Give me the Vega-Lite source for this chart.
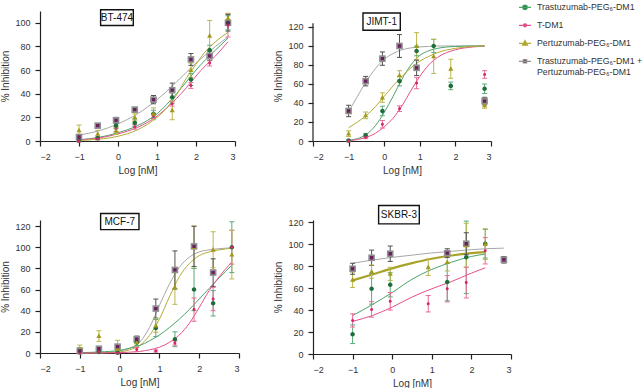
{
"$schema": "https://vega.github.io/schema/vega-lite/v6.json",
"background": "white",
"padding": {"left": 0, "top": 0, "right": 0, "bottom": 0},
"bounds": "flush",
"columns": 2,
"spacing": {"row": 79, "column": 74},
"resolve": {"scale": {"x": "independent", "y": "independent"}},
"datasets": {
"labels": [
{"p":"BT-474","x1":-0.446,"x2":0.392,"y1":97.7,"y2":111,"tx":-0.027,"ty":104.3},
{"p":"JIMT-1","x1":-0.596,"x2":0.452,"y1":116.5,"y2":134.7,"tx":-0.07,"ty":125.6,"ax":-2,"ay1":0,"ay2":124},
{"p":"MCF-7","x1":-0.477,"x2":0.487,"y1":116.6,"y2":131.8,"tx":0.005,"ty":124.2},
{"p":"SKBR-3","x1":-0.343,"x2":0.684,"y1":118.5,"y2":135.2,"tx":0.17,"ty":126.8}
],
"curves": [
{"p":"BT-474","s":"T+P","x":-1,"y":5},{"p":"BT-474","s":"T+P","x":-0.5,"y":8.5},{"p":"BT-474","s":"T+P","x":0,"y":14.5},{"p":"BT-474","s":"T+P","x":0.5,"y":23},{"p":"BT-474","s":"T+P","x":1,"y":35},{"p":"BT-474","s":"T+P","x":1.25,"y":42},{"p":"BT-474","s":"T+P","x":1.5,"y":50},{"p":"BT-474","s":"T+P","x":1.75,"y":58},{"p":"BT-474","s":"T+P","x":2,"y":66},{"p":"BT-474","s":"T+P","x":2.25,"y":73},{"p":"BT-474","s":"T+P","x":2.5,"y":80},{"p":"BT-474","s":"T+P","x":2.82,"y":88},
{"p":"BT-474","s":"T-PEG6","x":-1,"y":1},{"p":"BT-474","s":"T-PEG6","x":-0.5,"y":3},{"p":"BT-474","s":"T-PEG6","x":0,"y":7},{"p":"BT-474","s":"T-PEG6","x":0.5,"y":13},{"p":"BT-474","s":"T-PEG6","x":1,"y":23},{"p":"BT-474","s":"T-PEG6","x":1.25,"y":31},{"p":"BT-474","s":"T-PEG6","x":1.5,"y":40},{"p":"BT-474","s":"T-PEG6","x":1.75,"y":50},{"p":"BT-474","s":"T-PEG6","x":2,"y":60},{"p":"BT-474","s":"T-PEG6","x":2.25,"y":69},{"p":"BT-474","s":"T-PEG6","x":2.5,"y":77},{"p":"BT-474","s":"T-PEG6","x":2.82,"y":87},
{"p":"BT-474","s":"T-DM1","x":-1,"y":1},{"p":"BT-474","s":"T-DM1","x":-0.5,"y":2.5},{"p":"BT-474","s":"T-DM1","x":0,"y":6},{"p":"BT-474","s":"T-DM1","x":0.5,"y":11.5},{"p":"BT-474","s":"T-DM1","x":1,"y":21},{"p":"BT-474","s":"T-DM1","x":1.25,"y":28},{"p":"BT-474","s":"T-DM1","x":1.5,"y":36},{"p":"BT-474","s":"T-DM1","x":1.75,"y":45},{"p":"BT-474","s":"T-DM1","x":2,"y":55},{"p":"BT-474","s":"T-DM1","x":2.25,"y":64},{"p":"BT-474","s":"T-DM1","x":2.5,"y":72},{"p":"BT-474","s":"T-DM1","x":2.82,"y":84},
{"p":"BT-474","s":"P-PEG6","x":-1,"y":0.5},{"p":"BT-474","s":"P-PEG6","x":-0.5,"y":1.5},{"p":"BT-474","s":"P-PEG6","x":0,"y":4},{"p":"BT-474","s":"P-PEG6","x":0.5,"y":9.5},{"p":"BT-474","s":"P-PEG6","x":1,"y":20},{"p":"BT-474","s":"P-PEG6","x":1.25,"y":28},{"p":"BT-474","s":"P-PEG6","x":1.5,"y":39},{"p":"BT-474","s":"P-PEG6","x":1.75,"y":53},{"p":"BT-474","s":"P-PEG6","x":2,"y":65},{"p":"BT-474","s":"P-PEG6","x":2.25,"y":76},{"p":"BT-474","s":"P-PEG6","x":2.5,"y":84},{"p":"BT-474","s":"P-PEG6","x":2.82,"y":92},
{"p":"JIMT-1","s":"T+P","x":-1,"y":31},{"p":"JIMT-1","s":"T+P","x":-0.75,"y":47},{"p":"JIMT-1","s":"T+P","x":-0.5,"y":63},{"p":"JIMT-1","s":"T+P","x":-0.25,"y":76},{"p":"JIMT-1","s":"T+P","x":0,"y":86},{"p":"JIMT-1","s":"T+P","x":0.25,"y":92},{"p":"JIMT-1","s":"T+P","x":0.5,"y":96},{"p":"JIMT-1","s":"T+P","x":0.75,"y":98},{"p":"JIMT-1","s":"T+P","x":1,"y":99},{"p":"JIMT-1","s":"T+P","x":1.25,"y":99.5},{"p":"JIMT-1","s":"T+P","x":1.5,"y":100},{"p":"JIMT-1","s":"T+P","x":2,"y":100},{"p":"JIMT-1","s":"T+P","x":2.5,"y":100},{"p":"JIMT-1","s":"T+P","x":2.82,"y":100},
{"p":"JIMT-1","s":"T-PEG6","x":-1,"y":0.7},{"p":"JIMT-1","s":"T-PEG6","x":-0.75,"y":2.5},{"p":"JIMT-1","s":"T-PEG6","x":-0.5,"y":7},{"p":"JIMT-1","s":"T-PEG6","x":-0.25,"y":16},{"p":"JIMT-1","s":"T-PEG6","x":0,"y":30},{"p":"JIMT-1","s":"T-PEG6","x":0.25,"y":47},{"p":"JIMT-1","s":"T-PEG6","x":0.5,"y":65},{"p":"JIMT-1","s":"T-PEG6","x":0.75,"y":80},{"p":"JIMT-1","s":"T-PEG6","x":1,"y":90},{"p":"JIMT-1","s":"T-PEG6","x":1.25,"y":95},{"p":"JIMT-1","s":"T-PEG6","x":1.5,"y":97.5},{"p":"JIMT-1","s":"T-PEG6","x":2,"y":99.5},{"p":"JIMT-1","s":"T-PEG6","x":2.5,"y":100},{"p":"JIMT-1","s":"T-PEG6","x":2.82,"y":100},
{"p":"JIMT-1","s":"T-DM1","x":-1,"y":0.5},{"p":"JIMT-1","s":"T-DM1","x":-0.75,"y":1.5},{"p":"JIMT-1","s":"T-DM1","x":-0.5,"y":4},{"p":"JIMT-1","s":"T-DM1","x":-0.25,"y":8},{"p":"JIMT-1","s":"T-DM1","x":0,"y":15},{"p":"JIMT-1","s":"T-DM1","x":0.25,"y":24},{"p":"JIMT-1","s":"T-DM1","x":0.5,"y":37},{"p":"JIMT-1","s":"T-DM1","x":0.75,"y":53},{"p":"JIMT-1","s":"T-DM1","x":1,"y":68},{"p":"JIMT-1","s":"T-DM1","x":1.25,"y":80},{"p":"JIMT-1","s":"T-DM1","x":1.5,"y":88},{"p":"JIMT-1","s":"T-DM1","x":2,"y":96},{"p":"JIMT-1","s":"T-DM1","x":2.5,"y":99},{"p":"JIMT-1","s":"T-DM1","x":2.82,"y":100},
{"p":"JIMT-1","s":"P-PEG6","x":-1,"y":14},{"p":"JIMT-1","s":"P-PEG6","x":-0.75,"y":20},{"p":"JIMT-1","s":"P-PEG6","x":-0.5,"y":27},{"p":"JIMT-1","s":"P-PEG6","x":-0.25,"y":36},{"p":"JIMT-1","s":"P-PEG6","x":0,"y":47},{"p":"JIMT-1","s":"P-PEG6","x":0.25,"y":58},{"p":"JIMT-1","s":"P-PEG6","x":0.5,"y":68},{"p":"JIMT-1","s":"P-PEG6","x":0.75,"y":77},{"p":"JIMT-1","s":"P-PEG6","x":1,"y":84},{"p":"JIMT-1","s":"P-PEG6","x":1.25,"y":89},{"p":"JIMT-1","s":"P-PEG6","x":1.5,"y":93},{"p":"JIMT-1","s":"P-PEG6","x":2,"y":97.5},{"p":"JIMT-1","s":"P-PEG6","x":2.5,"y":99.5},{"p":"JIMT-1","s":"P-PEG6","x":2.82,"y":100},
{"p":"MCF-7","s":"T+P","x":-1,"y":0},{"p":"MCF-7","s":"T+P","x":-0.5,"y":0.3},{"p":"MCF-7","s":"T+P","x":0,"y":2},{"p":"MCF-7","s":"T+P","x":0.25,"y":4.5},{"p":"MCF-7","s":"T+P","x":0.5,"y":10},{"p":"MCF-7","s":"T+P","x":0.75,"y":24},{"p":"MCF-7","s":"T+P","x":1,"y":45},{"p":"MCF-7","s":"T+P","x":1.25,"y":65},{"p":"MCF-7","s":"T+P","x":1.5,"y":81},{"p":"MCF-7","s":"T+P","x":1.75,"y":90.5},{"p":"MCF-7","s":"T+P","x":2,"y":95.5},{"p":"MCF-7","s":"T+P","x":2.25,"y":97.5},{"p":"MCF-7","s":"T+P","x":2.5,"y":98.6},{"p":"MCF-7","s":"T+P","x":2.82,"y":99.5},
{"p":"MCF-7","s":"P-PEG6","x":-1,"y":0},{"p":"MCF-7","s":"P-PEG6","x":-0.5,"y":0.2},{"p":"MCF-7","s":"P-PEG6","x":0,"y":1},{"p":"MCF-7","s":"P-PEG6","x":0.25,"y":3},{"p":"MCF-7","s":"P-PEG6","x":0.5,"y":7},{"p":"MCF-7","s":"P-PEG6","x":0.75,"y":16.5},{"p":"MCF-7","s":"P-PEG6","x":1,"y":32},{"p":"MCF-7","s":"P-PEG6","x":1.25,"y":53},{"p":"MCF-7","s":"P-PEG6","x":1.5,"y":72},{"p":"MCF-7","s":"P-PEG6","x":1.75,"y":84.5},{"p":"MCF-7","s":"P-PEG6","x":2,"y":92},{"p":"MCF-7","s":"P-PEG6","x":2.25,"y":95.5},{"p":"MCF-7","s":"P-PEG6","x":2.5,"y":97.5},{"p":"MCF-7","s":"P-PEG6","x":2.82,"y":99},
{"p":"MCF-7","s":"T-PEG6","x":-1,"y":0.3},{"p":"MCF-7","s":"T-PEG6","x":-0.5,"y":1},{"p":"MCF-7","s":"T-PEG6","x":0,"y":2.5},{"p":"MCF-7","s":"T-PEG6","x":0.25,"y":4.5},{"p":"MCF-7","s":"T-PEG6","x":0.5,"y":7},{"p":"MCF-7","s":"T-PEG6","x":0.75,"y":11.5},{"p":"MCF-7","s":"T-PEG6","x":1,"y":17},{"p":"MCF-7","s":"T-PEG6","x":1.25,"y":24},{"p":"MCF-7","s":"T-PEG6","x":1.5,"y":32},{"p":"MCF-7","s":"T-PEG6","x":1.75,"y":41},{"p":"MCF-7","s":"T-PEG6","x":2,"y":51},{"p":"MCF-7","s":"T-PEG6","x":2.25,"y":61},{"p":"MCF-7","s":"T-PEG6","x":2.5,"y":71},{"p":"MCF-7","s":"T-PEG6","x":2.82,"y":83},
{"p":"MCF-7","s":"T-DM1","x":-1,"y":0},{"p":"MCF-7","s":"T-DM1","x":-0.5,"y":0},{"p":"MCF-7","s":"T-DM1","x":0,"y":0.3},{"p":"MCF-7","s":"T-DM1","x":0.25,"y":0.8},{"p":"MCF-7","s":"T-DM1","x":0.5,"y":1.5},{"p":"MCF-7","s":"T-DM1","x":0.75,"y":3},{"p":"MCF-7","s":"T-DM1","x":1,"y":5.5},{"p":"MCF-7","s":"T-DM1","x":1.25,"y":10},{"p":"MCF-7","s":"T-DM1","x":1.5,"y":17},{"p":"MCF-7","s":"T-DM1","x":1.75,"y":28},{"p":"MCF-7","s":"T-DM1","x":2,"y":43},{"p":"MCF-7","s":"T-DM1","x":2.25,"y":59},{"p":"MCF-7","s":"T-DM1","x":2.5,"y":72},{"p":"MCF-7","s":"T-DM1","x":2.82,"y":86},
{"p":"SKBR-3","s":"T+P","x":-1,"y":82.7},{"p":"SKBR-3","s":"T+P","x":-0.5,"y":85.5},{"p":"SKBR-3","s":"T+P","x":0,"y":88},{"p":"SKBR-3","s":"T+P","x":0.5,"y":90},{"p":"SKBR-3","s":"T+P","x":1,"y":92},{"p":"SKBR-3","s":"T+P","x":1.5,"y":93.5},{"p":"SKBR-3","s":"T+P","x":2,"y":95},{"p":"SKBR-3","s":"T+P","x":2.35,"y":95.8},{"p":"SKBR-3","s":"T+P","x":2.82,"y":96.4},
{"p":"SKBR-3","s":"P-PEG6","x":-1,"y":67},{"p":"SKBR-3","s":"P-PEG6","x":-0.5,"y":72.4},{"p":"SKBR-3","s":"P-PEG6","x":0,"y":78},{"p":"SKBR-3","s":"P-PEG6","x":0.5,"y":82.7},{"p":"SKBR-3","s":"P-PEG6","x":1,"y":86.7},{"p":"SKBR-3","s":"P-PEG6","x":1.5,"y":89.7},{"p":"SKBR-3","s":"P-PEG6","x":2,"y":91.8},{"p":"SKBR-3","s":"P-PEG6","x":2.35,"y":92.7},
{"p":"SKBR-3","s":"T-PEG6","x":-1,"y":35},{"p":"SKBR-3","s":"T-PEG6","x":-0.5,"y":45},{"p":"SKBR-3","s":"T-PEG6","x":0,"y":56},{"p":"SKBR-3","s":"T-PEG6","x":0.5,"y":68},{"p":"SKBR-3","s":"T-PEG6","x":1,"y":77},{"p":"SKBR-3","s":"T-PEG6","x":1.5,"y":83.6},{"p":"SKBR-3","s":"T-PEG6","x":2,"y":88.8},{"p":"SKBR-3","s":"T-PEG6","x":2.35,"y":91},
{"p":"SKBR-3","s":"T-DM1","x":-1,"y":29.7},{"p":"SKBR-3","s":"T-DM1","x":-0.5,"y":35},{"p":"SKBR-3","s":"T-DM1","x":0,"y":42.7},{"p":"SKBR-3","s":"T-DM1","x":0.5,"y":51.8},{"p":"SKBR-3","s":"T-DM1","x":1,"y":59.4},{"p":"SKBR-3","s":"T-DM1","x":1.5,"y":66},{"p":"SKBR-3","s":"T-DM1","x":2,"y":73.6},{"p":"SKBR-3","s":"T-DM1","x":2.35,"y":78.5}
],
"pts": [
{"p":"BT-474","s":"T-PEG6","x":-1,"y":0.5,"lo":-0.5,"hi":1.5},{"p":"BT-474","s":"T-PEG6","x":-0.52,"y":2.5,"lo":1,"hi":4},{"p":"BT-474","s":"T-PEG6","x":-0.05,"y":13,"lo":10.5,"hi":15.5},{"p":"BT-474","s":"T-PEG6","x":0.43,"y":15.5,"lo":12.5,"hi":18.5},{"p":"BT-474","s":"T-PEG6","x":0.91,"y":23,"lo":20,"hi":26},{"p":"BT-474","s":"T-PEG6","x":1.39,"y":37,"lo":32,"hi":42},{"p":"BT-474","s":"T-PEG6","x":1.87,"y":52,"lo":47,"hi":57},{"p":"BT-474","s":"T-PEG6","x":2.35,"y":77,"lo":73,"hi":81},{"p":"BT-474","s":"T-PEG6","x":2.82,"y":100,"lo":94,"hi":106},
{"p":"BT-474","s":"T-DM1","x":-1,"y":0,"lo":-1,"hi":1},{"p":"BT-474","s":"T-DM1","x":-0.52,"y":2,"lo":1,"hi":3},{"p":"BT-474","s":"T-DM1","x":-0.05,"y":10,"lo":8,"hi":12},{"p":"BT-474","s":"T-DM1","x":0.43,"y":12,"lo":10,"hi":14},{"p":"BT-474","s":"T-DM1","x":0.91,"y":21,"lo":19,"hi":23},{"p":"BT-474","s":"T-DM1","x":1.39,"y":31.5,"lo":29.5,"hi":33.5},{"p":"BT-474","s":"T-DM1","x":1.87,"y":47,"lo":44.5,"hi":49.5},{"p":"BT-474","s":"T-DM1","x":2.35,"y":66,"lo":63.5,"hi":68.5},{"p":"BT-474","s":"T-DM1","x":2.82,"y":98,"lo":88,"hi":108},
{"p":"BT-474","s":"P-PEG6","x":-1,"y":9,"lo":4.5,"hi":13.5},{"p":"BT-474","s":"P-PEG6","x":-0.52,"y":6,"lo":3,"hi":9},{"p":"BT-474","s":"P-PEG6","x":-0.05,"y":8.5,"lo":5.5,"hi":11.5},{"p":"BT-474","s":"P-PEG6","x":0.43,"y":20,"lo":17,"hi":23},{"p":"BT-474","s":"P-PEG6","x":0.91,"y":23,"lo":18,"hi":28},{"p":"BT-474","s":"P-PEG6","x":1.39,"y":26,"lo":18,"hi":34},{"p":"BT-474","s":"P-PEG6","x":1.87,"y":60,"lo":54,"hi":66},{"p":"BT-474","s":"P-PEG6","x":2.35,"y":89,"lo":76,"hi":102},{"p":"BT-474","s":"P-PEG6","x":2.82,"y":104,"lo":100,"hi":108},
{"p":"BT-474","s":"T+P","x":-1,"y":3.4,"lo":1.4,"hi":5.4},{"p":"BT-474","s":"T+P","x":-0.52,"y":13,"lo":11.5,"hi":14.5},{"p":"BT-474","s":"T+P","x":-0.05,"y":17.5,"lo":15,"hi":20},{"p":"BT-474","s":"T+P","x":0.43,"y":26.5,"lo":24.5,"hi":28.5},{"p":"BT-474","s":"T+P","x":0.91,"y":35,"lo":31.5,"hi":38.5},{"p":"BT-474","s":"T+P","x":1.39,"y":43,"lo":37,"hi":49},{"p":"BT-474","s":"T+P","x":1.87,"y":69,"lo":64,"hi":74},{"p":"BT-474","s":"T+P","x":2.35,"y":72,"lo":68,"hi":76},{"p":"BT-474","s":"T+P","x":2.82,"y":100,"lo":93,"hi":107},
{"p":"JIMT-1","s":"T-PEG6","x":-1,"y":0.5,"lo":-0.5,"hi":1.5},{"p":"JIMT-1","s":"T-PEG6","x":-0.52,"y":6,"lo":4,"hi":8},{"p":"JIMT-1","s":"T-PEG6","x":-0.05,"y":31.6,"lo":26.6,"hi":36.6},{"p":"JIMT-1","s":"T-PEG6","x":0.43,"y":63,"lo":58,"hi":68},{"p":"JIMT-1","s":"T-PEG6","x":0.91,"y":94.7,"lo":89.7,"hi":99.7},{"p":"JIMT-1","s":"T-PEG6","x":1.39,"y":100,"lo":93,"hi":107},{"p":"JIMT-1","s":"T-PEG6","x":1.87,"y":58,"lo":54,"hi":62},{"p":"JIMT-1","s":"T-PEG6","x":2.82,"y":55,"lo":50,"hi":60},
{"p":"JIMT-1","s":"T-DM1","x":-1,"y":0,"lo":-1,"hi":1},{"p":"JIMT-1","s":"T-DM1","x":-0.52,"y":4,"lo":2.5,"hi":5.5},{"p":"JIMT-1","s":"T-DM1","x":-0.05,"y":17.6,"lo":13.6,"hi":21.6},{"p":"JIMT-1","s":"T-DM1","x":0.43,"y":34,"lo":31,"hi":37},{"p":"JIMT-1","s":"T-DM1","x":0.91,"y":61,"lo":55,"hi":67},{"p":"JIMT-1","s":"T-DM1","x":2.82,"y":70,"lo":66,"hi":74},
{"p":"JIMT-1","s":"P-PEG6","x":-1,"y":7.7,"lo":4.7,"hi":10.7},{"p":"JIMT-1","s":"P-PEG6","x":-0.52,"y":27,"lo":23.5,"hi":30.5},{"p":"JIMT-1","s":"P-PEG6","x":-0.05,"y":45.7,"lo":40.7,"hi":50.7},{"p":"JIMT-1","s":"P-PEG6","x":0.43,"y":69,"lo":64,"hi":74},{"p":"JIMT-1","s":"P-PEG6","x":0.91,"y":100,"lo":86,"hi":114},{"p":"JIMT-1","s":"P-PEG6","x":1.39,"y":89,"lo":71,"hi":107},{"p":"JIMT-1","s":"P-PEG6","x":1.87,"y":76,"lo":66,"hi":86},{"p":"JIMT-1","s":"P-PEG6","x":2.82,"y":37.5,"lo":34.5,"hi":40.5},
{"p":"JIMT-1","s":"T+P","x":-1,"y":31.6,"lo":25.6,"hi":37.6},{"p":"JIMT-1","s":"T+P","x":-0.52,"y":63,"lo":58,"hi":68},{"p":"JIMT-1","s":"T+P","x":-0.05,"y":86.7,"lo":79.7,"hi":93.7},{"p":"JIMT-1","s":"T+P","x":0.43,"y":100,"lo":88,"hi":112},{"p":"JIMT-1","s":"T+P","x":0.91,"y":77,"lo":69,"hi":85},{"p":"JIMT-1","s":"T+P","x":2.82,"y":42,"lo":38,"hi":46},
{"p":"MCF-7","s":"T-PEG6","x":-1,"y":2,"lo":-1,"hi":5},{"p":"MCF-7","s":"T-PEG6","x":-0.52,"y":1,"lo":0,"hi":2},{"p":"MCF-7","s":"T-PEG6","x":-0.05,"y":0.3,"lo":-0.7,"hi":1.3},{"p":"MCF-7","s":"T-PEG6","x":0.43,"y":10,"lo":7,"hi":13},{"p":"MCF-7","s":"T-PEG6","x":0.91,"y":23.6,"lo":15.6,"hi":31.6},{"p":"MCF-7","s":"T-PEG6","x":1.39,"y":13,"lo":6,"hi":20},{"p":"MCF-7","s":"T-PEG6","x":1.87,"y":60,"lo":40,"hi":80},{"p":"MCF-7","s":"T-PEG6","x":2.35,"y":47,"lo":35,"hi":59},{"p":"MCF-7","s":"T-PEG6","x":2.82,"y":100,"lo":76,"hi":124},
{"p":"MCF-7","s":"T-DM1","x":-1,"y":0,"lo":-0.5,"hi":0.5},{"p":"MCF-7","s":"T-DM1","x":-0.52,"y":1,"lo":0.5,"hi":1.5},{"p":"MCF-7","s":"T-DM1","x":-0.05,"y":0,"lo":-0.5,"hi":0.5},{"p":"MCF-7","s":"T-DM1","x":0.43,"y":3.2,"lo":1.2,"hi":5.2},{"p":"MCF-7","s":"T-DM1","x":0.91,"y":1.9,"lo":0.9,"hi":2.9},{"p":"MCF-7","s":"T-DM1","x":1.39,"y":9.5,"lo":7.5,"hi":11.5},{"p":"MCF-7","s":"T-DM1","x":1.87,"y":41,"lo":30,"hi":52},{"p":"MCF-7","s":"T-DM1","x":2.35,"y":51,"lo":40,"hi":62},{"p":"MCF-7","s":"T-DM1","x":2.82,"y":100,"lo":84,"hi":116},
{"p":"MCF-7","s":"P-PEG6","x":-1,"y":3.5,"lo":-0.5,"hi":7.5},{"p":"MCF-7","s":"P-PEG6","x":-0.52,"y":16,"lo":11,"hi":21},{"p":"MCF-7","s":"P-PEG6","x":-0.05,"y":4,"lo":0,"hi":12},{"p":"MCF-7","s":"P-PEG6","x":0.43,"y":10,"lo":5,"hi":15},{"p":"MCF-7","s":"P-PEG6","x":0.91,"y":26,"lo":19.5,"hi":32.5},{"p":"MCF-7","s":"P-PEG6","x":1.39,"y":62,"lo":46,"hi":78},{"p":"MCF-7","s":"P-PEG6","x":1.87,"y":100,"lo":80,"hi":120},{"p":"MCF-7","s":"P-PEG6","x":2.35,"y":97.6,"lo":80.6,"hi":114.6},{"p":"MCF-7","s":"P-PEG6","x":2.82,"y":93,"lo":70,"hi":116},
{"p":"MCF-7","s":"T+P","x":-1,"y":2,"lo":0,"hi":4},{"p":"MCF-7","s":"T+P","x":-0.52,"y":4,"lo":2.5,"hi":5.5},{"p":"MCF-7","s":"T+P","x":-0.05,"y":6,"lo":4,"hi":8},{"p":"MCF-7","s":"T+P","x":0.43,"y":13,"lo":10,"hi":16},{"p":"MCF-7","s":"T+P","x":0.91,"y":42,"lo":33,"hi":51},{"p":"MCF-7","s":"T+P","x":1.39,"y":78.5,"lo":60.5,"hi":96.5},{"p":"MCF-7","s":"T+P","x":1.87,"y":100.8,"lo":81.8,"hi":119.8},{"p":"MCF-7","s":"T+P","x":2.35,"y":76,"lo":63,"hi":89},
{"p":"SKBR-3","s":"T-PEG6","x":-1,"y":18,"lo":9.5,"hi":26.5},{"p":"SKBR-3","s":"T-PEG6","x":-0.52,"y":59.4,"lo":45.4,"hi":73.4},{"p":"SKBR-3","s":"T-PEG6","x":-0.05,"y":63,"lo":52,"hi":74},{"p":"SKBR-3","s":"T-PEG6","x":1.39,"y":65.5,"lo":48.5,"hi":82.5},{"p":"SKBR-3","s":"T-PEG6","x":1.87,"y":88,"lo":55,"hi":121},{"p":"SKBR-3","s":"T-PEG6","x":2.35,"y":100.4,"lo":87.4,"hi":113.4},
{"p":"SKBR-3","s":"T-DM1","x":-1,"y":30.6,"lo":24.6,"hi":36.6},{"p":"SKBR-3","s":"T-DM1","x":-0.52,"y":40.6,"lo":33.6,"hi":47.6},{"p":"SKBR-3","s":"T-DM1","x":-0.05,"y":48,"lo":40,"hi":56},{"p":"SKBR-3","s":"T-DM1","x":0.91,"y":45.8,"lo":38.3,"hi":53.3},{"p":"SKBR-3","s":"T-DM1","x":1.39,"y":59.4,"lo":47.4,"hi":71.4},{"p":"SKBR-3","s":"T-DM1","x":1.87,"y":65,"lo":51,"hi":79},{"p":"SKBR-3","s":"T-DM1","x":2.35,"y":94,"lo":82,"hi":106},
{"p":"SKBR-3","s":"P-PEG6","x":-1,"y":67.6,"lo":60.6,"hi":74.6},{"p":"SKBR-3","s":"P-PEG6","x":-0.52,"y":75,"lo":69,"hi":81},{"p":"SKBR-3","s":"P-PEG6","x":-0.05,"y":73,"lo":67,"hi":79},{"p":"SKBR-3","s":"P-PEG6","x":0.91,"y":79,"lo":71.5,"hi":86.5},{"p":"SKBR-3","s":"P-PEG6","x":1.39,"y":83.6,"lo":75.6,"hi":91.6},{"p":"SKBR-3","s":"P-PEG6","x":1.87,"y":99,"lo":79,"hi":119},{"p":"SKBR-3","s":"P-PEG6","x":2.35,"y":100,"lo":86,"hi":114},
{"p":"SKBR-3","s":"T+P","x":-1,"y":77.6,"lo":72.6,"hi":82.6},{"p":"SKBR-3","s":"T+P","x":-0.52,"y":87.6,"lo":80.6,"hi":94.6},{"p":"SKBR-3","s":"T+P","x":-0.05,"y":91.3,"lo":84.3,"hi":98.3},{"p":"SKBR-3","s":"T+P","x":1.39,"y":91.8,"lo":87.8,"hi":95.8},{"p":"SKBR-3","s":"T+P","x":1.87,"y":100.4,"lo":90.4,"hi":110.4},{"p":"SKBR-3","s":"T+P","x":2.82,"y":85.8,"lo":82.8,"hi":88.8}
]
},
"concat": [
{"width": 195, "height": 130,
 "encoding": {
  "x": {"field": "x", "type": "quantitative", "scale": {"domain": [-2, 3], "nice": false, "zero": false}, "axis": {"values": [-2, -1, 0, 1, 2, 3], "title": "Log [nM]"}},
  "y": {"field": "y", "type": "quantitative", "scale": {"domain": [0, 110], "nice": false, "zero": false}, "axis": {"values": [0, 20, 40, 60, 80, 100], "title": "% Inhibition"}}
 },
 "layer": [
  {"data": {"name": "curves"}, "transform": [{"filter": "datum.p == 'BT-474'"}], "mark": {"type": "line", "interpolate": "monotone", "strokeWidth": 1},
   "encoding": {"detail": {"field": "s"}, "stroke": {"condition": [{"test": "datum.s == 'T-PEG6'", "value": "#4aa36a"}, {"test": "datum.s == 'T-DM1'", "value": "#e6508a"}, {"test": "datum.s == 'P-PEG6'", "value": "#b3ad35"}], "value": "#a8a8a8"}}},
  {"data": {"name": "pts"}, "transform": [{"filter": "datum.p == 'BT-474'"}], "mark": {"type": "rule", "strokeWidth": 1},
   "encoding": {"y": {"field": "lo", "type": "quantitative"}, "y2": {"field": "hi"}, "color": {"condition": [{"test": "datum.s == 'T-PEG6'", "value": "#5aac78"}, {"test": "datum.s == 'T-DM1'", "value": "#ea6a98"}, {"test": "datum.s == 'P-PEG6'", "value": "#bcb64a"}], "value": "#505050"}}},
  {"data": {"name": "pts"}, "transform": [{"filter": "datum.p == 'BT-474'"}], "mark": {"type": "tick", "orient": "horizontal", "size": 5, "thickness": 1, "opacity": 1},
   "encoding": {"y": {"field": "lo", "type": "quantitative"}, "color": {"condition": [{"test": "datum.s == 'T-PEG6'", "value": "#5aac78"}, {"test": "datum.s == 'T-DM1'", "value": "#ea6a98"}, {"test": "datum.s == 'P-PEG6'", "value": "#bcb64a"}], "value": "#505050"}}},
  {"data": {"name": "pts"}, "transform": [{"filter": "datum.p == 'BT-474'"}], "mark": {"type": "tick", "orient": "horizontal", "size": 5, "thickness": 1, "opacity": 1},
   "encoding": {"y": {"field": "hi", "type": "quantitative"}, "color": {"condition": [{"test": "datum.s == 'T-PEG6'", "value": "#5aac78"}, {"test": "datum.s == 'T-DM1'", "value": "#ea6a98"}, {"test": "datum.s == 'P-PEG6'", "value": "#bcb64a"}], "value": "#505050"}}},
  {"data": {"name": "pts"}, "transform": [{"filter": "datum.p == 'BT-474' && datum.s == 'T+P'"}], "mark": {"type": "point", "filled": true, "opacity": 1, "shape": "square", "size": 44, "color": "#8f8f8f"}},
  {"data": {"name": "pts"}, "transform": [{"filter": "datum.p == 'BT-474'"}], "mark": {"type": "point", "filled": true, "opacity": 1},
   "encoding": {
    "color": {"field": "s", "type": "nominal", "scale": {"domain": ["T-PEG6", "T-DM1", "P-PEG6", "T+P"], "range": ["#1e6e3a", "#d8246a", "#a39a1c", "#6a1f5e"]},
     "legend": {"title": null, "orient": "none", "legendX": 478, "legendY": -10.7,
      "labelExpr": "datum.value == 'T-PEG6' ? 'Trastuzumab-PEG₆-DM1' : datum.value == 'T-DM1' ? 'T-DM1' : datum.value == 'P-PEG6' ? 'Pertuzumab-PEG₆-DM1' : ['Trastuzumab-PEG₆-DM1 +', 'Pertuzumab-PEG₆-DM1']"}},
    "shape": {"field": "s", "type": "nominal", "scale": {"domain": ["T-PEG6", "T-DM1", "P-PEG6", "T+P"], "range": ["M0,-1.04M0,1.04M-1,0H1M0.38,0A0.38,0.38,0,1,1,-0.38,0A0.38,0.38,0,1,1,0.38,0Z", "M0,-1.04M0,1.04M-1,0H1M0.25,0A0.25,0.25,0,1,1,-0.25,0A0.25,0.25,0,1,1,0.25,0Z", "M0,-1.04M0,1.04M-1,0H1M0,-0.45L0.42,0.32L-0.42,0.32Z", "M0,-1.04M0,1.04M-1,0H1M-0.28,-0.28H0.28V0.28H-0.28Z"]},
     "legend": {"title": null, "orient": "none", "legendX": 478, "legendY": -10.7,
      "labelExpr": "datum.value == 'T-PEG6' ? 'Trastuzumab-PEG₆-DM1' : datum.value == 'T-DM1' ? 'T-DM1' : datum.value == 'P-PEG6' ? 'Pertuzumab-PEG₆-DM1' : ['Trastuzumab-PEG₆-DM1 +', 'Pertuzumab-PEG₆-DM1']"}},
    "stroke": {"field": "s", "type": "nominal", "scale": {"domain": ["T-PEG6", "T-DM1", "P-PEG6", "T+P"], "range": ["#4aa36a", "#e6508a", "#b3ad35", "#8f8f8f"]},
     "legend": {"title": null, "orient": "none", "legendX": 478, "legendY": -10.7,
      "labelExpr": "datum.value == 'T-PEG6' ? 'Trastuzumab-PEG₆-DM1' : datum.value == 'T-DM1' ? 'T-DM1' : datum.value == 'P-PEG6' ? 'Pertuzumab-PEG₆-DM1' : ['Trastuzumab-PEG₆-DM1 +', 'Pertuzumab-PEG₆-DM1']"}},
    "size": {"value": 144},
    "strokeWidth": {"value": 0}
   }},
  {"data": {"name": "labels"}, "transform": [{"filter": "datum.p == 'BT-474'"}], "mark": {"type": "rect", "fill": "white", "stroke": "#111", "strokeWidth": 1.4},
   "encoding": {"x": {"field": "x1", "type": "quantitative"}, "x2": {"field": "x2"}, "y": {"field": "y1", "type": "quantitative"}, "y2": {"field": "y2"}}},
  {"data": {"name": "labels"}, "transform": [{"filter": "datum.p == 'BT-474'"}], "mark": {"type": "text", "fontSize": 10, "color": "#111"},
   "encoding": {"x": {"field": "tx", "type": "quantitative"}, "y": {"field": "ty", "type": "quantitative"}, "text": {"field": "p", "type": "nominal"}}}
 ]},
{"width": 178, "height": 130,
 "encoding": {
  "x": {"field": "x", "type": "quantitative", "scale": {"domain": [-2, 3], "nice": false, "zero": false}, "axis": {"values": [-2, -1, 0, 1, 2, 3], "title": "Log [nM]"}},
  "y": {"field": "y", "type": "quantitative", "scale": {"domain": [0, 136.8], "nice": false, "zero": false}, "axis": {"values": [0, 20, 40, 60, 80, 100, 120], "title": "% Inhibition", "domain": false}}
 },
 "layer": [
  {"data": {"name": "labels"}, "transform": [{"filter": "datum.p == 'JIMT-1'"}], "mark": {"type": "rule", "color": "#222", "strokeWidth": 1.2},
   "encoding": {"x": {"field": "ax", "type": "quantitative"}, "y": {"field": "ay1", "type": "quantitative"}, "y2": {"field": "ay2"}}},
  {"data": {"name": "curves"}, "transform": [{"filter": "datum.p == 'JIMT-1'"}], "mark": {"type": "line", "interpolate": "monotone", "strokeWidth": 1},
   "encoding": {"detail": {"field": "s"}, "stroke": {"condition": [{"test": "datum.s == 'T-PEG6'", "value": "#4aa36a"}, {"test": "datum.s == 'T-DM1'", "value": "#e6508a"}, {"test": "datum.s == 'P-PEG6'", "value": "#b3ad35"}], "value": "#a8a8a8"}}},
  {"data": {"name": "pts"}, "transform": [{"filter": "datum.p == 'JIMT-1'"}], "mark": {"type": "rule", "strokeWidth": 1},
   "encoding": {"y": {"field": "lo", "type": "quantitative"}, "y2": {"field": "hi"}, "color": {"condition": [{"test": "datum.s == 'T-PEG6'", "value": "#5aac78"}, {"test": "datum.s == 'T-DM1'", "value": "#ea6a98"}, {"test": "datum.s == 'P-PEG6'", "value": "#bcb64a"}], "value": "#505050"}}},
  {"data": {"name": "pts"}, "transform": [{"filter": "datum.p == 'JIMT-1'"}], "mark": {"type": "tick", "orient": "horizontal", "size": 5, "thickness": 1, "opacity": 1},
   "encoding": {"y": {"field": "lo", "type": "quantitative"}, "color": {"condition": [{"test": "datum.s == 'T-PEG6'", "value": "#5aac78"}, {"test": "datum.s == 'T-DM1'", "value": "#ea6a98"}, {"test": "datum.s == 'P-PEG6'", "value": "#bcb64a"}], "value": "#505050"}}},
  {"data": {"name": "pts"}, "transform": [{"filter": "datum.p == 'JIMT-1'"}], "mark": {"type": "tick", "orient": "horizontal", "size": 5, "thickness": 1, "opacity": 1},
   "encoding": {"y": {"field": "hi", "type": "quantitative"}, "color": {"condition": [{"test": "datum.s == 'T-PEG6'", "value": "#5aac78"}, {"test": "datum.s == 'T-DM1'", "value": "#ea6a98"}, {"test": "datum.s == 'P-PEG6'", "value": "#bcb64a"}], "value": "#505050"}}},
  {"data": {"name": "pts"}, "transform": [{"filter": "datum.p == 'JIMT-1' && datum.s == 'T+P'"}], "mark": {"type": "point", "filled": true, "opacity": 1, "shape": "square", "size": 44, "color": "#8f8f8f"}},
  {"data": {"name": "pts"}, "transform": [{"filter": "datum.p == 'JIMT-1'"}], "mark": {"type": "point", "filled": true, "opacity": 1},
   "encoding": {
    "color": {"field": "s", "type": "nominal", "scale": {"domain": ["T-PEG6", "T-DM1", "P-PEG6", "T+P"], "range": ["#1e6e3a", "#d8246a", "#a39a1c", "#6a1f5e"]}, "legend": null},
    "shape": {"field": "s", "type": "nominal", "scale": {"domain": ["T-PEG6", "T-DM1", "P-PEG6", "T+P"], "range": ["M0,-1.04M0,1.04M-1,0H1M0.38,0A0.38,0.38,0,1,1,-0.38,0A0.38,0.38,0,1,1,0.38,0Z", "M0,-1.04M0,1.04M-1,0H1M0.25,0A0.25,0.25,0,1,1,-0.25,0A0.25,0.25,0,1,1,0.25,0Z", "M0,-1.04M0,1.04M-1,0H1M0,-0.45L0.42,0.32L-0.42,0.32Z", "M0,-1.04M0,1.04M-1,0H1M-0.28,-0.28H0.28V0.28H-0.28Z"]}, "legend": null},
    "stroke": {"field": "s", "type": "nominal", "scale": {"domain": ["T-PEG6", "T-DM1", "P-PEG6", "T+P"], "range": ["#4aa36a", "#e6508a", "#b3ad35", "#8f8f8f"]}, "legend": null},
    "size": {"value": 144},
    "strokeWidth": {"value": 0}
   }},
  {"data": {"name": "labels"}, "transform": [{"filter": "datum.p == 'JIMT-1'"}], "mark": {"type": "rect", "fill": "white", "stroke": "#111", "strokeWidth": 1.4},
   "encoding": {"x": {"field": "x1", "type": "quantitative"}, "x2": {"field": "x2"}, "y": {"field": "y1", "type": "quantitative"}, "y2": {"field": "y2"}}},
  {"data": {"name": "labels"}, "transform": [{"filter": "datum.p == 'JIMT-1'"}], "mark": {"type": "text", "fontSize": 10, "color": "#111"},
   "encoding": {"x": {"field": "tx", "type": "quantitative"}, "y": {"field": "ty", "type": "quantitative"}, "text": {"field": "p", "type": "nominal"}}}
 ]},
{"width": 199, "height": 133,
 "encoding": {
  "x": {"field": "x", "type": "quantitative", "scale": {"domain": [-2, 3], "nice": false, "zero": false}, "axis": {"values": [-2, -1, 0, 1, 2, 3], "title": "Log [nM]"}},
  "y": {"field": "y", "type": "quantitative", "scale": {"domain": [0, 125.7], "nice": false, "zero": false}, "axis": {"values": [0, 20, 40, 60, 80, 100, 120], "title": "% Inhibition"}}
 },
 "layer": [
  {"data": {"name": "curves"}, "transform": [{"filter": "datum.p == 'MCF-7'"}], "mark": {"type": "line", "interpolate": "monotone", "strokeWidth": 1},
   "encoding": {"detail": {"field": "s"}, "stroke": {"condition": [{"test": "datum.s == 'T-PEG6'", "value": "#4aa36a"}, {"test": "datum.s == 'T-DM1'", "value": "#e6508a"}, {"test": "datum.s == 'P-PEG6'", "value": "#b3ad35"}], "value": "#a8a8a8"}}},
  {"data": {"name": "pts"}, "transform": [{"filter": "datum.p == 'MCF-7'"}], "mark": {"type": "rule", "strokeWidth": 1},
   "encoding": {"y": {"field": "lo", "type": "quantitative"}, "y2": {"field": "hi"}, "color": {"condition": [{"test": "datum.s == 'T-PEG6'", "value": "#5aac78"}, {"test": "datum.s == 'T-DM1'", "value": "#ea6a98"}, {"test": "datum.s == 'P-PEG6'", "value": "#bcb64a"}], "value": "#505050"}}},
  {"data": {"name": "pts"}, "transform": [{"filter": "datum.p == 'MCF-7'"}], "mark": {"type": "tick", "orient": "horizontal", "size": 5, "thickness": 1, "opacity": 1},
   "encoding": {"y": {"field": "lo", "type": "quantitative"}, "color": {"condition": [{"test": "datum.s == 'T-PEG6'", "value": "#5aac78"}, {"test": "datum.s == 'T-DM1'", "value": "#ea6a98"}, {"test": "datum.s == 'P-PEG6'", "value": "#bcb64a"}], "value": "#505050"}}},
  {"data": {"name": "pts"}, "transform": [{"filter": "datum.p == 'MCF-7'"}], "mark": {"type": "tick", "orient": "horizontal", "size": 5, "thickness": 1, "opacity": 1},
   "encoding": {"y": {"field": "hi", "type": "quantitative"}, "color": {"condition": [{"test": "datum.s == 'T-PEG6'", "value": "#5aac78"}, {"test": "datum.s == 'T-DM1'", "value": "#ea6a98"}, {"test": "datum.s == 'P-PEG6'", "value": "#bcb64a"}], "value": "#505050"}}},
  {"data": {"name": "pts"}, "transform": [{"filter": "datum.p == 'MCF-7' && datum.s == 'T+P'"}], "mark": {"type": "point", "filled": true, "opacity": 1, "shape": "square", "size": 44, "color": "#8f8f8f"}},
  {"data": {"name": "pts"}, "transform": [{"filter": "datum.p == 'MCF-7'"}], "mark": {"type": "point", "filled": true, "opacity": 1},
   "encoding": {
    "color": {"field": "s", "type": "nominal", "scale": {"domain": ["T-PEG6", "T-DM1", "P-PEG6", "T+P"], "range": ["#1e6e3a", "#d8246a", "#a39a1c", "#6a1f5e"]}, "legend": null},
    "shape": {"field": "s", "type": "nominal", "scale": {"domain": ["T-PEG6", "T-DM1", "P-PEG6", "T+P"], "range": ["M0,-1.04M0,1.04M-1,0H1M0.38,0A0.38,0.38,0,1,1,-0.38,0A0.38,0.38,0,1,1,0.38,0Z", "M0,-1.04M0,1.04M-1,0H1M0.25,0A0.25,0.25,0,1,1,-0.25,0A0.25,0.25,0,1,1,0.25,0Z", "M0,-1.04M0,1.04M-1,0H1M0,-0.45L0.42,0.32L-0.42,0.32Z", "M0,-1.04M0,1.04M-1,0H1M-0.28,-0.28H0.28V0.28H-0.28Z"]}, "legend": null},
    "stroke": {"field": "s", "type": "nominal", "scale": {"domain": ["T-PEG6", "T-DM1", "P-PEG6", "T+P"], "range": ["#4aa36a", "#e6508a", "#b3ad35", "#8f8f8f"]}, "legend": null},
    "size": {"value": 144},
    "strokeWidth": {"value": 0}
   }},
  {"data": {"name": "labels"}, "transform": [{"filter": "datum.p == 'MCF-7'"}], "mark": {"type": "rect", "fill": "white", "stroke": "#111", "strokeWidth": 1.4},
   "encoding": {"x": {"field": "x1", "type": "quantitative"}, "x2": {"field": "x2"}, "y": {"field": "y1", "type": "quantitative"}, "y2": {"field": "y2"}}},
  {"data": {"name": "labels"}, "transform": [{"filter": "datum.p == 'MCF-7'"}], "mark": {"type": "text", "fontSize": 10, "color": "#111"},
   "encoding": {"x": {"field": "tx", "type": "quantitative"}, "y": {"field": "ty", "type": "quantitative"}, "text": {"field": "p", "type": "nominal"}}}
 ]},
{"width": 198, "height": 134,
 "encoding": {
  "x": {"field": "x", "type": "quantitative", "scale": {"domain": [-2, 3], "nice": false, "zero": false}, "axis": {"values": [-2, -1, 0, 1, 2, 3], "title": "Log [nM]"}},
  "y": {"field": "y", "type": "quantitative", "scale": {"domain": [0, 122], "nice": false, "zero": false}, "axis": {"values": [0, 20, 40, 60, 80, 100, 120], "title": "% Inhibition"}}
 },
 "layer": [
  {"data": {"name": "curves"}, "transform": [{"filter": "datum.p == 'SKBR-3'"}], "mark": {"type": "line", "interpolate": "monotone"},
   "encoding": {"detail": {"field": "s"}, "stroke": {"condition": [{"test": "datum.s == 'T-PEG6'", "value": "#4aa36a"}, {"test": "datum.s == 'T-DM1'", "value": "#e6508a"}, {"test": "datum.s == 'P-PEG6'", "value": "#a8a22a"}], "value": "#a8a8a8"},
    "strokeWidth": {"condition": {"test": "datum.s == 'P-PEG6'", "value": 2.2}, "value": 1}}},
  {"data": {"name": "pts"}, "transform": [{"filter": "datum.p == 'SKBR-3'"}], "mark": {"type": "rule", "strokeWidth": 1},
   "encoding": {"y": {"field": "lo", "type": "quantitative"}, "y2": {"field": "hi"}, "color": {"condition": [{"test": "datum.s == 'T-PEG6'", "value": "#5aac78"}, {"test": "datum.s == 'T-DM1'", "value": "#ea6a98"}, {"test": "datum.s == 'P-PEG6'", "value": "#bcb64a"}], "value": "#505050"}}},
  {"data": {"name": "pts"}, "transform": [{"filter": "datum.p == 'SKBR-3'"}], "mark": {"type": "tick", "orient": "horizontal", "size": 5, "thickness": 1, "opacity": 1},
   "encoding": {"y": {"field": "lo", "type": "quantitative"}, "color": {"condition": [{"test": "datum.s == 'T-PEG6'", "value": "#5aac78"}, {"test": "datum.s == 'T-DM1'", "value": "#ea6a98"}, {"test": "datum.s == 'P-PEG6'", "value": "#bcb64a"}], "value": "#505050"}}},
  {"data": {"name": "pts"}, "transform": [{"filter": "datum.p == 'SKBR-3'"}], "mark": {"type": "tick", "orient": "horizontal", "size": 5, "thickness": 1, "opacity": 1},
   "encoding": {"y": {"field": "hi", "type": "quantitative"}, "color": {"condition": [{"test": "datum.s == 'T-PEG6'", "value": "#5aac78"}, {"test": "datum.s == 'T-DM1'", "value": "#ea6a98"}, {"test": "datum.s == 'P-PEG6'", "value": "#bcb64a"}], "value": "#505050"}}},
  {"data": {"name": "pts"}, "transform": [{"filter": "datum.p == 'SKBR-3' && datum.s == 'T+P'"}], "mark": {"type": "point", "filled": true, "opacity": 1, "shape": "square", "size": 44, "color": "#8f8f8f"}},
  {"data": {"name": "pts"}, "transform": [{"filter": "datum.p == 'SKBR-3'"}], "mark": {"type": "point", "filled": true, "opacity": 1},
   "encoding": {
    "color": {"field": "s", "type": "nominal", "scale": {"domain": ["T-PEG6", "T-DM1", "P-PEG6", "T+P"], "range": ["#1e6e3a", "#d8246a", "#a39a1c", "#6a1f5e"]}, "legend": null},
    "shape": {"field": "s", "type": "nominal", "scale": {"domain": ["T-PEG6", "T-DM1", "P-PEG6", "T+P"], "range": ["M0,-1.04M0,1.04M-1,0H1M0.38,0A0.38,0.38,0,1,1,-0.38,0A0.38,0.38,0,1,1,0.38,0Z", "M0,-1.04M0,1.04M-1,0H1M0.25,0A0.25,0.25,0,1,1,-0.25,0A0.25,0.25,0,1,1,0.25,0Z", "M0,-1.04M0,1.04M-1,0H1M0,-0.45L0.42,0.32L-0.42,0.32Z", "M0,-1.04M0,1.04M-1,0H1M-0.28,-0.28H0.28V0.28H-0.28Z"]}, "legend": null},
    "stroke": {"field": "s", "type": "nominal", "scale": {"domain": ["T-PEG6", "T-DM1", "P-PEG6", "T+P"], "range": ["#4aa36a", "#e6508a", "#b3ad35", "#8f8f8f"]}, "legend": null},
    "size": {"value": 144},
    "strokeWidth": {"value": 0}
   }},
  {"data": {"name": "labels"}, "transform": [{"filter": "datum.p == 'SKBR-3'"}], "mark": {"type": "rect", "fill": "white", "stroke": "#111", "strokeWidth": 1.4},
   "encoding": {"x": {"field": "x1", "type": "quantitative"}, "x2": {"field": "x2"}, "y": {"field": "y1", "type": "quantitative"}, "y2": {"field": "y2"}}},
  {"data": {"name": "labels"}, "transform": [{"filter": "datum.p == 'SKBR-3'"}], "mark": {"type": "text", "fontSize": 10, "color": "#111"},
   "encoding": {"x": {"field": "tx", "type": "quantitative"}, "y": {"field": "ty", "type": "quantitative"}, "text": {"field": "p", "type": "nominal"}}}
 ]}
],
"config": {
 "view": {"stroke": null},
 "font": "Liberation Sans",
 "axis": {"grid": false, "domainColor": "#222", "domainWidth": 1.2, "tickColor": "#222", "tickWidth": 1.2, "tickSize": 5, "labelColor": "#333", "labelFontSize": 9, "labelFont": "Liberation Sans", "titleFont": "Liberation Sans", "titleFontSize": 10, "titleFontWeight": "normal", "titleColor": "#333"},
 "axisX": {"labelPadding": 6, "titlePadding": 4},
 "axisY": {"labelPadding": 5, "titlePadding": 4},
 "legend": {"labelFont": "Liberation Sans", "labelFontSize": 8.8, "labelColor": "#333", "symbolSize": 144, "symbolStrokeWidth": 1.2, "rowPadding": 0, "labelOffset": 5, "padding": 0, "labelLimit": 200}
}
}
